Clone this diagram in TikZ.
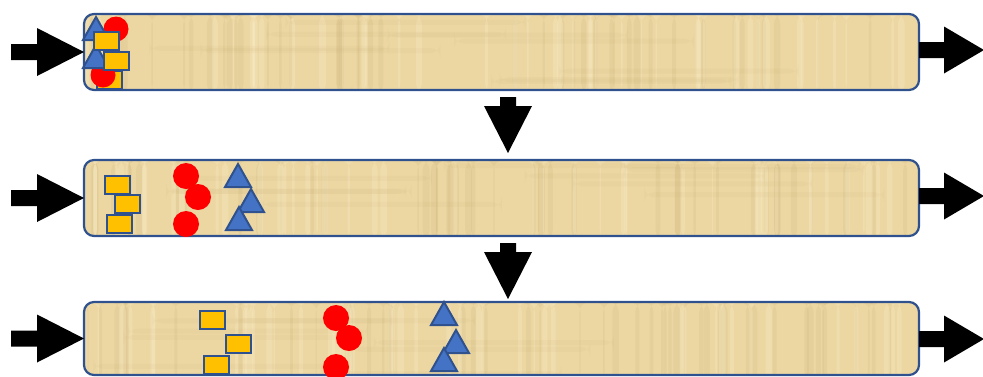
\documentclass[tikz,border=0pt]{standalone}
\usetikzlibrary{calc}
\definecolor{tubeline}{RGB}{47,82,143}
\definecolor{tubefill}{RGB}{236,215,163}
\definecolor{papdark}{RGB}{205,178,120}
\definecolor{paplight}{RGB}{248,234,195}
\definecolor{triblue}{RGB}{68,114,196}
\definecolor{sqyellow}{RGB}{255,192,0}
\definecolor{dotred}{RGB}{255,0,0}
\begin{document}
\begin{tikzpicture}[x=1pt,y=-1pt,
  tube/.style={draw=tubeline, line width=2.2pt, fill=tubefill, rounded corners=10pt,
    minimum width=835pt, inner sep=0pt, outer sep=0pt,
    path picture={
      \pgfmathsetseed{#1}
      \foreach \i in {1,...,45}{
        \pgfmathsetmacro\xx{rnd*835}\pgfmathsetmacro\ww{1+rnd*6}
        \fill[papdark,opacity=0.2] ([xshift=\xx pt]path picture bounding box.north west) rectangle ++(\ww,80);
      }
      \foreach \i in {1,...,45}{
        \pgfmathsetmacro\xx{rnd*835}\pgfmathsetmacro\ww{1+rnd*6}
        \fill[paplight,opacity=0.35] ([xshift=\xx pt]path picture bounding box.north west) rectangle ++(\ww,80);
      }
      \foreach \i in {1,...,10}{
        \pgfmathsetmacro\yy{rnd*76}\pgfmathsetmacro\xx{rnd*600}
        \fill[papdark,opacity=0.1] ([xshift=\xx pt,yshift=-\yy pt]path picture bounding box.north west) rectangle ++(240,5);
      }
    }},
  blockarrow/.style={fill=black},
  sq/.style={draw=tubeline, fill=sqyellow, line width=2pt, rectangle,
    minimum width=25pt, minimum height=18pt, inner sep=0pt},
  dot/.style={fill=dotred, circle, minimum size=26pt, inner sep=0pt},
  trishape/.style={draw=tubeline, fill=triblue, line width=2pt, line join=miter},
  tri/.pic={\draw[trishape] (0,0) -- (13,23) -- (-13,23) -- cycle;}
]
\useasboundingbox (0,0) rectangle (983,376);

% tubes
\node[tube=11, minimum height=76pt] (t1) at (501.5,52) {};
\node[tube=23, minimum height=76pt] (t2) at (501.5,198) {};
\node[tube=37, minimum height=73pt] (t3) at (501.5,338.5) {};

% input arrows
\fill[blockarrow] (t1.west) -- ++(-47,-24) -- ++(0,16) -- ++(-26,0) -- ++(0,16) -- ++(26,0) -- ++(0,16) -- cycle;
\fill[blockarrow] (t2.west) -- ++(-47,-24) -- ++(0,16) -- ++(-26,0) -- ++(0,16) -- ++(26,0) -- ++(0,16) -- cycle;
\fill[blockarrow] (t3.west) -- ++(-47,-24) -- ++(0,16) -- ++(-26,0) -- ++(0,16) -- ++(26,0) -- ++(0,16) -- cycle;

% output arrows
\coordinate (o1) at ($(t1.east)+(0,-2)$);
\coordinate (o2) at ($(t2.east)+(0,-2)$);
\coordinate (o3) at ($(t3.east)+(0,0.5)$);
\foreach \o in {o1,o2,o3}{
  \fill[blockarrow] (\o) ++(0,-8) -- ++(25,0) -- ++(0,-15.5) -- ++(40,23.5) -- ++(-40,23.5) -- ++(0,-15.5) -- ++(-25,0) -- cycle;
}

% down arrows
\coordinate (d1) at (508,97);
\coordinate (d2) at (508,243);
\foreach \d in {d1,d2}{
  \fill[blockarrow] (\d) ++(-8,0) -- ++(16,0) -- ++(0,9) -- ++(16,0) -- ++(-24,47) -- ++(-24,-47) -- ++(16,0) -- cycle;
}

% tube 1 contents (all mixed at inlet)
\node[sq] (s13) at (109,80) {};
\node[dot, minimum size=25pt] (c12) at (103,75) {};
\node[dot, minimum size=25pt] (c11) at (116,29) {};
\pic (p11) at (96,17) {tri};
\pic (p12) at (96,45) {tri};
\node[sq] (s11) at (106,40.5) {};
\node[sq] (s12) at (116.5,60.5) {};

% tube 2 contents
\node[sq] (s21) at (117.5,184.5) {};
\node[sq] (s23) at (119.5,223.5) {};
\node[sq] (s22) at (127.5,203.5) {};
\node[dot] (c21) at (186,176) {};
\node[dot] (c22) at (198,197) {};
\node[dot] (c23) at (186,224) {};
\pic (p21) at (238,164) {tri};
\pic (p22) at (251,189) {tri};
\pic (p23) at (239,207) {tri};

% tube 3 contents
\node[sq] (s31) at (212,320) {};
\node[sq] (s33) at (216.5,365) {};
\node[sq] (s32) at (238.5,344) {};
\node[dot] (c31) at (336,318) {};
\node[dot] (c32) at (349,338) {};
\node[dot] (c33) at (336,367) {};
\pic (p31) at (444,302) {tri};
\pic (p32) at (456,330) {tri};
\pic (p33) at (444,348) {tri};
\end{tikzpicture}
\end{document}
